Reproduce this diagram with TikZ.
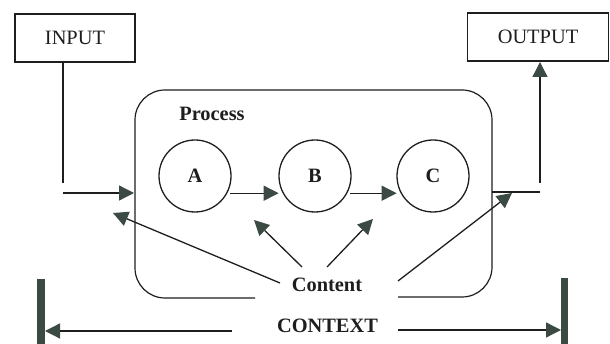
\documentclass[tikz,border=0pt]{standalone}
\usepackage{fontspec}
\setmainfont{Liberation Serif}
\usetikzlibrary{arrows.meta}
\definecolor{tipcol}{HTML}{3B4A43}
\definecolor{linecol}{HTML}{1E1E1E}
\begin{document}
\begin{tikzpicture}[x=1pt,y=-1pt,
  every node/.style={font=\fontsize{20.4}{24}\selectfont, text=linecol},
  ln/.style={draw=linecol, line width=1.3pt},
  arr/.style={ln, -{Triangle[length=15pt,width=15pt,fill=tipcol,color=tipcol]}},
  plainbox/.style={draw=linecol, line width=1.2pt, minimum height=48pt, inner sep=0pt},
  stage/.style={circle, draw=linecol, line width=1.3pt, minimum size=72pt, inner sep=0pt, font=\fontsize{20.4}{24}\selectfont\bfseries},
  bar/.style={fill=tipcol, draw=none}]
\useasboundingbox (0,0) rectangle (610,344);
% boxes
\node[plainbox, minimum width=120pt] (in) at (75,38) {INPUT};
\node[plainbox, minimum width=141pt] (out) at (538,37) {OUTPUT};
% process frame
\draw[ln, line width=1.2pt, rounded corners=30pt] (255,298) -- (135,298) -- (135,90) -- (492,90) -- (492,297) -- (398,297);
\node[font=\fontsize{20.4}{24}\selectfont\bfseries] (proc) at (212,114) {Process};
% stages
\node[stage] (A) at (195,176) {A};
\node[stage] (B) at (315,176) {B};
\node[stage] (C) at (433,176) {C};
% labels
\node[font=\fontsize{20.4}{24}\selectfont\bfseries] (content) at (327,285) {Content};
\node[font=\fontsize{20.4}{24}\selectfont\bfseries] (context) at (327.5,326) {CONTEXT};
% coordinates
\coordinate (inA) at (63,183);
\coordinate (inB) at (63,193);
\coordinate (pin) at (134,193);
\coordinate (pout) at (492,192);
\coordinate (oB) at (540,192);
\coordinate (oA) at (540,183);
\coordinate (oT) at (540,62);
\coordinate (lt) at (113,213);
\coordinate (bt) at (254,220);
\coordinate (ct) at (373,219);
\coordinate (rt) at (512,193);
\coordinate (xl) at (45,331);
\coordinate (xr) at (561,330);
% input
\draw[ln] ([xshift=-12pt]in.south) -- (inA);
\draw[arr] (inB) -- (pin);
% between stages
\draw[arr] ([xshift=3pt]A.-28) -- ([xshift=-4pt]B.-152);
\draw[arr] ([xshift=3pt]B.-28) -- ([xshift=-4pt]C.-152);
% output
\draw[ln] (pout) -- (oB);
\draw[arr] (oA) -- (oT);
% content arrows
\draw[arr] ([shift={(-47,-2)}]content.center) -- (lt);
\draw[arr] ([shift={(-25,-18)}]content.center) -- (bt);
\draw[arr] ([shift={(0,-18)}]content.center) -- (ct);
\draw[arr] ([shift={(71,-4)}]content.center) -- (rt);
% context
\fill[bar] (37,279) rectangle (45,344);
\fill[bar] (561,278) rectangle (568,344);
\draw[arr] ([shift={(-95.5,5)}]context.center) -- (xl);
\draw[arr] ([shift={(70.5,4)}]context.center) -- (xr);
\end{tikzpicture}
\end{document}
